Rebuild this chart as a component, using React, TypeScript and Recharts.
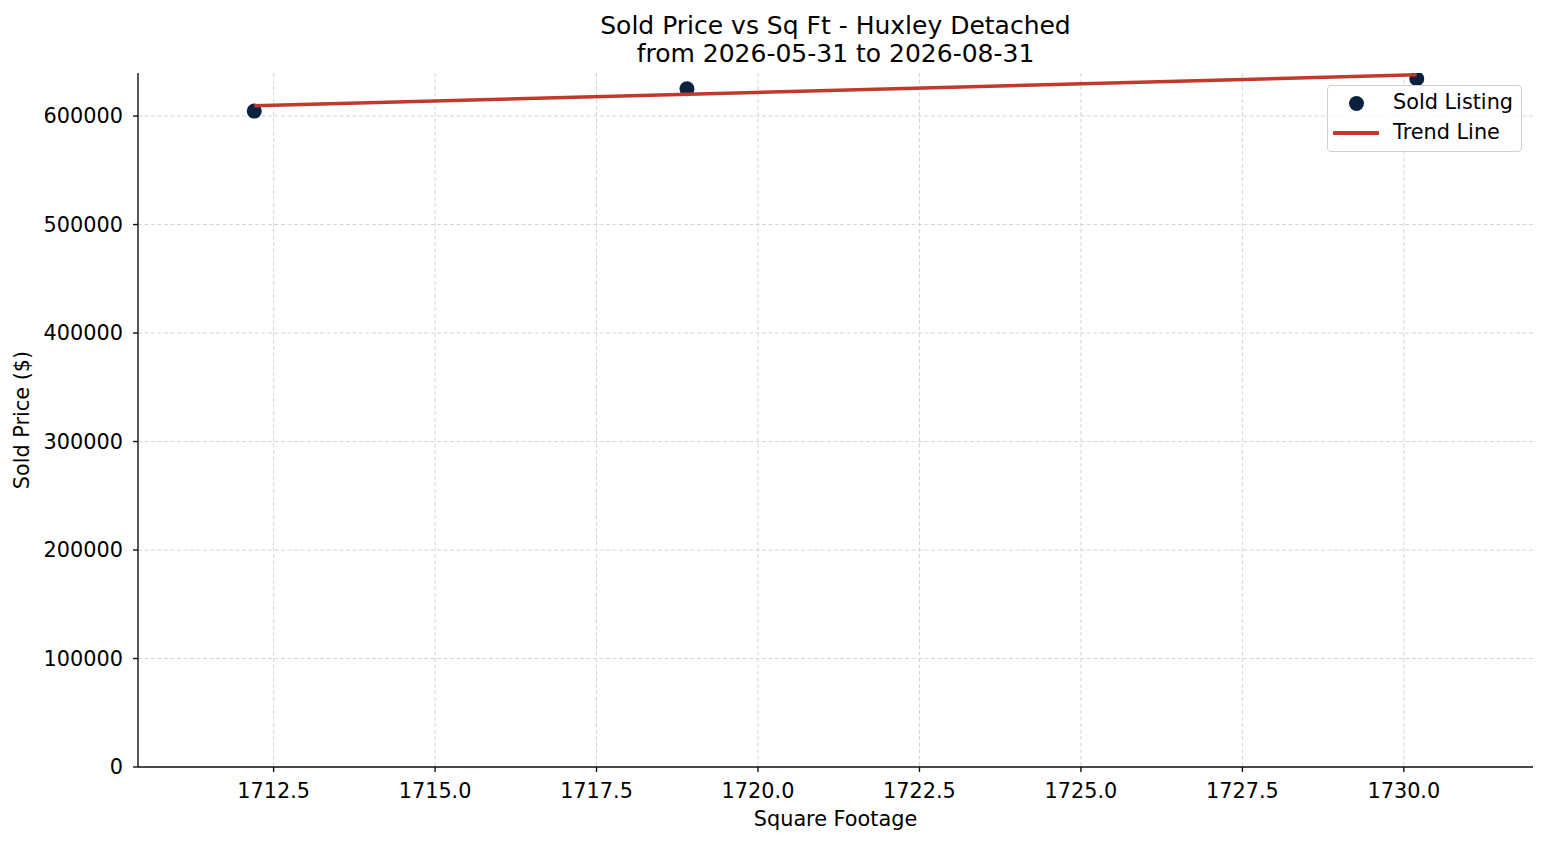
import React from 'react';
import {
  ScatterChart,
  Scatter,
  XAxis,
  YAxis,
  CartesianGrid,
} from 'recharts';

// sold listings (sq ft, sold price)
const sqft = [1712.2, 1718.9, 1730.2];
const soldPrice = [604600, 625200, 634400];

// trend line end points
const trendSqft = [1712.2, 1730.2];
const trendPrice = [609600, 638000];

const xTicks = [1712.5, 1715.0, 1717.5, 1720.0, 1722.5, 1725.0, 1727.5, 1730.0];
const yTicks = [0, 100000, 200000, 300000, 400000, 500000, 600000];

const titleLines = ['Sold Price vs Sq Ft - Huxley Detached', 'from 2026-05-31 to 2026-08-31'];

const FONT = '"DejaVu Sans", Verdana, sans-serif';
const FS = 20.8;
const DOT = '#0a2240';
const RED = '#c0392b';

const sold = sqft.map((x, i) => ({ x, y: soldPrice[i] }));
const trend = trendSqft.map((x, i) => ({ x, y: trendPrice[i] }));

const tickStyle = { fill: '#000', fontSize: FS, fontFamily: FONT };

function LegendBox() {
  return (
    <div
      style={{
        position: 'absolute',
        left: 1319,
        top: 77,
        width: 193,
        height: 65,
        border: '1px solid #d0d0d0',
        borderRadius: 4,
        background: 'rgba(255,255,255,0.8)',
        fontFamily: FONT,
        fontSize: FS,
        color: '#000',
        zIndex: 2,
      }}
    >
      <div style={{ position: 'absolute', left: 21, top: 10, width: 15, height: 15, borderRadius: '50%', background: DOT }} />
      <div style={{ position: 'absolute', left: 65, top: 4, lineHeight: '24px' }}>Sold Listing</div>
      <div style={{ position: 'absolute', left: 5, top: 45, width: 46, height: 3.5, background: RED }} />
      <div style={{ position: 'absolute', left: 65, top: 34, lineHeight: '24px' }}>Trend Line</div>
    </div>
  );
}

export default function App() {
  return (
    <div style={{ position: 'relative', width: 1531, height: 829, fontFamily: FONT }}>
      {titleLines.map((t, i) => (
        <div
          key={t}
          style={{
            position: 'absolute',
            left: 0,
            width: 1655,
            top: 4 + i * 28,
            textAlign: 'center',
            fontSize: 25,
            lineHeight: '28px',
            color: '#000',
            whiteSpace: 'nowrap',
          }}
        >
          {t}
        </div>
      ))}
      <div
        style={{
          position: 'absolute',
          left: 0,
          width: 1655,
          top: 799,
          textAlign: 'center',
          fontSize: FS,
          lineHeight: '24px',
          color: '#000',
        }}
      >
        Square Footage
      </div>
      <div
        style={{
          position: 'absolute',
          left: 14 - 100,
          top: 412 - 12,
          width: 200,
          textAlign: 'center',
          fontSize: FS,
          lineHeight: '24px',
          color: '#000',
          transform: 'rotate(-90deg)',
        }}
      >
        Sold Price ($)
      </div>
      <ScatterChart
        width={1531}
        height={829}
        margin={{ top: 65, right: 6, left: 0, bottom: 0 }}
        style={{ position: 'absolute', left: 0, top: 0 }}
      >
        <CartesianGrid
          stroke="#cfcfcf"
          strokeWidth={0.9}
          strokeDasharray="4 2.5"
          horizontalValues={yTicks}
          verticalValues={xTicks}
        />
        <XAxis
          type="number"
          dataKey="x"
          domain={[1710.4, 1732.0]}
          allowDataOverflow
          ticks={xTicks}
          tickFormatter={(v) => Number(v).toFixed(1)}
          tick={tickStyle}
          tickSize={5}
          tickMargin={11}
          height={70}
          axisLine={{ stroke: '#111', strokeWidth: 1.4 }}
          tickLine={{ stroke: '#111', strokeWidth: 1.4 }}
        />
        <YAxis
          type="number"
          dataKey="y"
          domain={[0, 639700]}
          allowDataOverflow
          ticks={yTicks}
          tick={tickStyle}
          tickSize={5}
          tickMargin={10}
          width={130}
          axisLine={{ stroke: '#111', strokeWidth: 1.4 }}
          tickLine={{ stroke: '#111', strokeWidth: 1.4 }}
        />
        <Scatter
          name="Sold Listing"
          data={sold}
          fill={DOT}
          isAnimationActive={false}
          shape={(p: any) => <circle cx={p.cx} cy={p.cy} r={7.5} fill={DOT} />}
        />
        <Scatter
          name="Trend Line"
          data={trend}
          line={{ stroke: RED, strokeWidth: 3.5 }}
          isAnimationActive={false}
          shape={() => <g />}
        />
      </ScatterChart>
      <LegendBox />
    </div>
  );
}
